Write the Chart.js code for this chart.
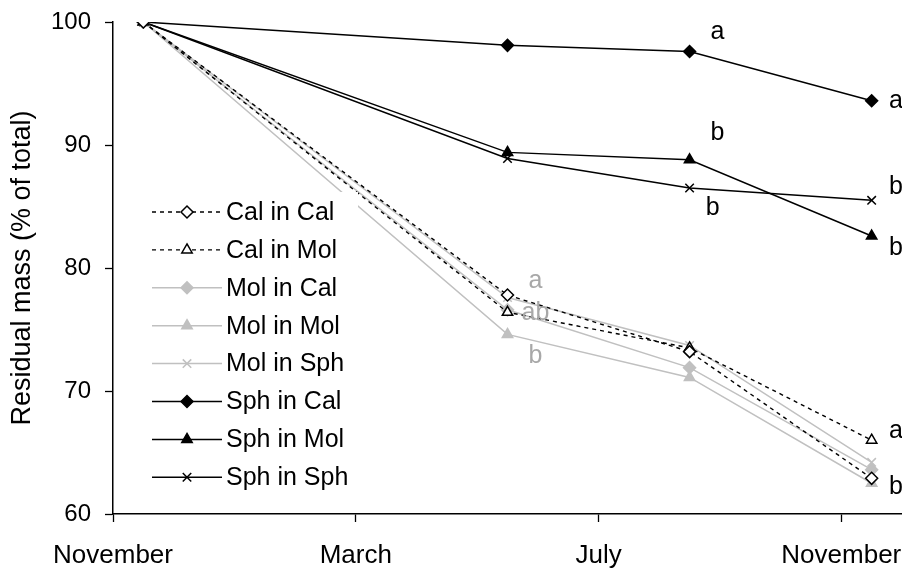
<!DOCTYPE html>
<html>
<head>
<meta charset="utf-8">
<script src="https://cdn.jsdelivr.net/npm/chart.js@4"></script>
<style>
html,body{margin:0;padding:0;background:#fff;}
#wrap{width:902px;height:570px;position:relative;}
</style>
</head>
<body>
<div id="wrap"><canvas id="c" width="902" height="570"></canvas></div>
<script>
// ---- data ----
const xMonths = [0.5, 6.5, 9.5, 12.5];
const xTickLabels = ['November', 'March', 'July', 'November'];
const yTickValues = [60, 70, 80, 90, 100];
const seriesNames = ['Cal in Cal','Cal in Mol','Mol in Cal','Mol in Mol','Mol in Sph','Sph in Cal','Sph in Mol','Sph in Sph'];
const calInCal = [100, 77.8, 73.2, 62.9];
const calInMol = [100, 76.4, 73.5, 66.0];
const molInCal = [100, 76.6, 71.9, 63.6];
const molInMol = [100, 74.6, 71.1, 62.5];
const molInSph = [100, 77.6, 73.7, 64.2];
const sphInCal = [100, 98.1, 97.6, 93.6];
const sphInMol = [100, 89.4, 88.8, 82.6];
const sphInSph = [100, 88.9, 86.5, 85.5];
// significance letters: text, x (months), y (value), gray or not
const letterText = ['a','a','b','b','b','b','a','ab','b','a','b'];
const letterX    = [9.96,12.9,9.96,12.9,9.88,12.9,6.96,6.96,6.96,12.9,12.9];
const letterY    = [99.2,93.6,91.0,86.6,84.9,81.6,78.9,76.3,72.8,66.7,62.2];
const letterGray = [false,false,false,false,false,false,true,true,true,false,false];

const GRAY = '#c0c0c0';
const BLACK = '#000000';
const FONT = "'Liberation Sans', Arial, Helvetica, sans-serif";

function pts(arr){ return arr.map((v,i)=>({x:xMonths[i], y:v})); }

function ds(label, data, color, style, fill, dashed){
  return {
    label, data: pts(data),
    borderColor: color, backgroundColor: fill,
    borderWidth: dashed ? 1.4 : 1.5,
    borderDash: dashed ? [4,4] : [],
    pointStyle: style, pointRadius: 6,
    pointBorderColor: color, pointBackgroundColor: fill,
    pointBorderWidth: 1.5,
    showLine: true, tension: 0, fill: false
  };
}

const datasets = [
  ds(seriesNames[0], calInCal, BLACK, 'rectRot', '#ffffff', true),
  ds(seriesNames[1], calInMol, BLACK, 'triangle', '#ffffff', true),
  ds(seriesNames[2], molInCal, GRAY, 'rectRot', GRAY, false),
  ds(seriesNames[3], molInMol, GRAY, 'triangle', GRAY, false),
  ds(seriesNames[4], molInSph, GRAY, 'crossRot', GRAY, false),
  ds(seriesNames[5], sphInCal, BLACK, 'rectRot', BLACK, false),
  ds(seriesNames[6], sphInMol, BLACK, 'triangle', BLACK, false),
  ds(seriesNames[7], sphInSph, BLACK, 'crossRot', BLACK, false)
];

const legendPlugin = {
  id: 'boxLegend',
  afterDatasetsDraw(chart){
    const ctx = chart.ctx;
    ctx.save();
    ctx.fillStyle = '#ffffff';
    ctx.fillRect(140, 192, 218, 300);
    const x0 = 152, x1 = 222, mx = 187, tx = 226, y0 = 212, dy = 37.9;
    chart.data.datasets.forEach((d, i) => {
      const y = y0 + i*dy;
      ctx.save();
      ctx.strokeStyle = d.borderColor;
      ctx.lineWidth = d.borderWidth;
      ctx.setLineDash(d.borderDash);
      ctx.beginPath(); ctx.moveTo(x0, y); ctx.lineTo(x1, y); ctx.stroke();
      ctx.setLineDash([]);
      ctx.fillStyle = d.pointBackgroundColor;
      ctx.strokeStyle = d.pointBorderColor;
      ctx.lineWidth = d.pointBorderWidth;
      Chart.helpers.drawPoint(ctx, {pointStyle: d.pointStyle, radius: d.pointRadius, borderWidth: d.pointBorderWidth, rotation: 0}, mx, y);
      ctx.restore();
      ctx.fillStyle = '#000';
      ctx.font = '25px ' + FONT;
      ctx.textBaseline = 'middle';
      ctx.textAlign = 'left';
      ctx.fillText(d.label, tx, y + 1);
    });
    // letters
    const xs = chart.scales.x, ys = chart.scales.y;
    ctx.font = '25px ' + FONT;
    ctx.textAlign = 'center';
    ctx.textBaseline = 'middle';
    letterText.forEach((t, i) => {
      ctx.fillStyle = letterGray[i] ? '#a8a8a8' : '#000';
      ctx.fillText(t, xs.getPixelForValue(letterX[i]), ys.getPixelForValue(letterY[i]));
    });
    ctx.restore();
  }
};

new Chart(document.getElementById('c'), {
  type: 'scatter',
  data: { datasets },
  options: {
    responsive: false,
    animation: false,
    devicePixelRatio: 1,
    layout: { autoPadding: false, padding: { top: 22, right: 0, left: 0, bottom: 0 } },
    plugins: { legend: { display: false }, tooltip: { enabled: false } },
    scales: {
      x: {
        type: 'linear', min: 0, max: 13,
        afterFit(s){ s.height = 56; s.paddingRight = 0; s.paddingLeft = 0; s.paddingTop = 0; s.paddingBottom = 0; },
        afterBuildTicks(s){ s.ticks = xTickLabels.map((l,i)=>({value: i*4})); },
        grid: { display: true, drawOnChartArea: false, drawTicks: true, tickLength: 8, tickColor: '#000', tickWidth: 1.3 },
        border: { display: true, color: '#000', width: 1.5 },
        ticks: { color: '#000', font: { family: FONT, size: 26 }, padding: 18, maxRotation: 0, autoSkip: false,
          callback: (v) => xTickLabels[Math.round(v/4)] }
      },
      y: {
        type: 'linear', min: 60, max: 100,
        afterFit(s){ s.width = 113; s.paddingTop = 0; s.paddingBottom = 0; s.paddingLeft = 0; s.paddingRight = 0; },
        afterBuildTicks(s){ s.ticks = yTickValues.map(v=>({value:v})); },
        grid: { display: true, drawOnChartArea: false, drawTicks: true, tickLength: 8, tickColor: '#000', tickWidth: 1.3 },
        border: { display: true, color: '#000', width: 1.5 },
        title: { display: true, text: 'Residual mass (% of total)', color: '#000', font: { family: FONT, size: 27 }, padding: { top: 6, bottom: 0 } },
        ticks: { color: '#000', font: { family: FONT, size: 24 }, padding: 14 }
      }
    }
  },
  plugins: [legendPlugin]
});
</script>
</body>
</html>
